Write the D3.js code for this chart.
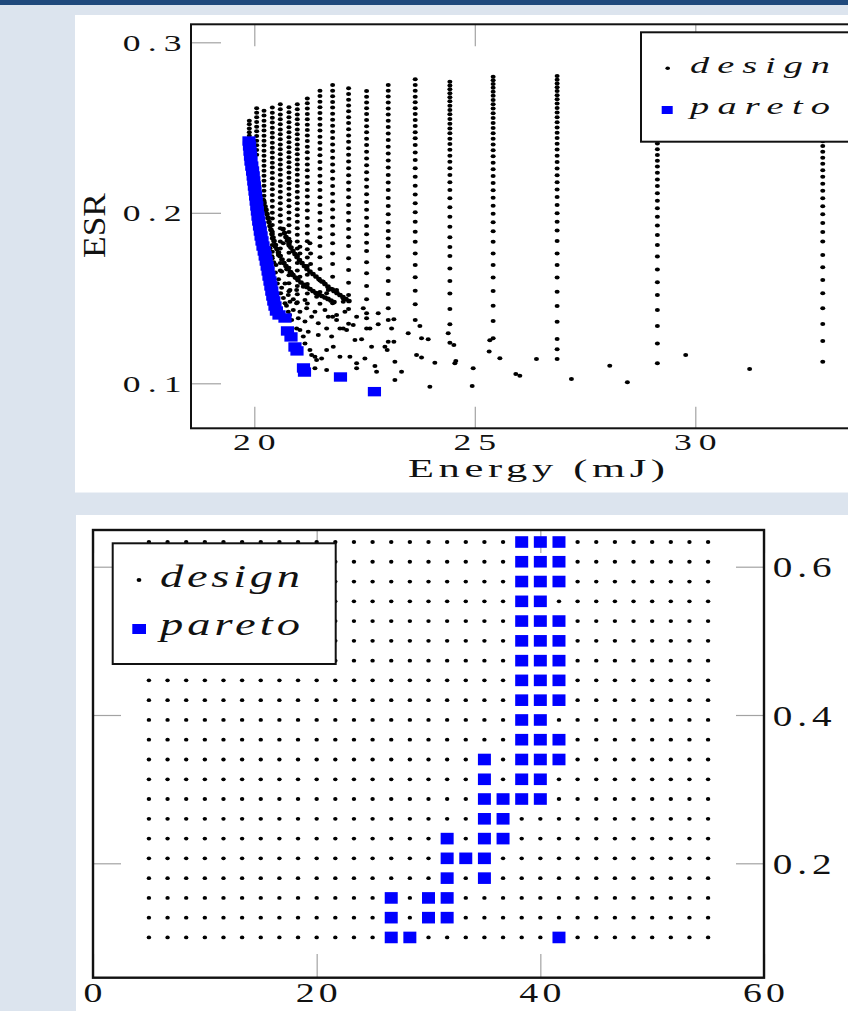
<!DOCTYPE html>
<html>
<head>
<meta charset="utf-8">
<script src="https://cdn.jsdelivr.net/npm/d3@7"></script>
<style>
  html, body { margin: 0; padding: 0; background: #dce4ee; overflow: hidden; }
  svg { display: block; }
  text { font-family: "Liberation Serif", "DejaVu Serif", serif; fill: #111; }
</style>
</head>
<body>
<svg id="page"></svg>
<script>
const width = 848;
const height = 1011;

// ---------- top chart: Energy (mJ) vs ESR ----------
const topXTicks = [20, 25, 30];
const topYTicks = [0.1, 0.2, 0.3];

// design sweep, one column of ESR values per energy level
const designColumns = [
  [19.887, [.2540,.2519,.2495,.2472,.2452,.2430,.2408]],
  [20.054, [.2613,.2587,.2560,.2533,.2505,.2478,.2451,.2423,.2396,.2368,.2340]],
  [20.220, [.2599,.2570,.2540,.2511,.2482,.2452,.2423,.2394,.2364,.2335,.2306,.2276,.2247,.2218,.2188,.2159,.2130,.2100,.2070,.2040,.2010]],
  [20.409, [.2617,.2587,.2558,.2529,.2499,.2470,.2441,.2411,.2382,.2353,.2323,.2294,.2265,.2235,.2202,.2169,.2138,.2104,.2071,.2036,.2001,.1966,.1928,.1889,.1850,.1811,.1772,.1733]],
  [20.590, [.2636,.2607,.2577,.2548,.2519,.2489,.2460,.2431,.2401,.2372,.2343,.2313,.2284,.2254,.2223,.2190,.2157,.2124,.2090,.2056,.2021,.1985,.1948,.1910,.1871,.1831,.1790,.1748,.1705,.1661]],
  [20.786, [.2619,.2590,.2561,.2531,.2502,.2472,.2443,.2414,.2384,.2355,.2326,.2296,.2267,.2237,.2206,.2174,.2141,.2107,.2073,.2038,.2002,.1965,.1927,.1888,.1848,.1807,.1765,.1722,.1678,.1633,.1587,.1540]],
  [20.975, [.2636,.2607,.2577,.2548,.2519,.2489,.2460,.2431,.2401,.2372,.2343,.2313,.2284,.2254,.2223,.2190,.2157,.2124,.2090,.2056,.2021,.1985,.1948,.1910,.1871,.1831,.1790,.1748,.1705,.1661,.1616,.1570,.1523,.1475]],
  [21.202, [.2671,.2642,.2611,.2579,.2548,.2517,.2486,.2454,.2421,.2388,.2355,.2319,.2284,.2249,.2212,.2173,.2134,.2095,.2054,.2013,.1969,.1924,.1879,.1833,.1786,.1738,.1688,.1636,.1582,.1526,.1468]],
  [21.489, [.2716,.2685,.2652,.2619,.2585,.2552,.2517,.2482,.2446,.2411,.2374,.2337,.2298,.2259,.2218,.2177,.2134,.2091,.2046,.2001,.1954,.1905,.1856,.1805,.1739,.1670,.1603,.1535,.1467]],
  [21.776, [.2750,.2716,.2683,.2650,.2617,.2581,.2546,.2511,.2476,.2439,.2401,.2362,.2323,.2284,.2243,.2200,.2157,.2112,.2067,.2020,.1973,.1924,.1874,.1821,.1762,.1700,.1625,.1551,.1469,.1391]],
  [22.138, [.2730,.2697,.2663,.2630,.2596,.2561,.2526,.2490,.2454,.2417,.2379,.2340,.2301,.2261,.2220,.2178,.2135,.2091,.2046,.2000,.1953,.1905,.1856,.1806,.1733,.1665,.1590,.1518,.1436,.1350]],
  [22.546, [.2714,.2681,.2647,.2613,.2579,.2544,.2508,.2472,.2435,.2397,.2358,.2319,.2279,.2238,.2196,.2153,.2109,.2064,.2018,.1971,.1923,.1874,.1824,.1776,.1710,.1645,.1571,.1493,.1411,.1322]],
  [23.037, [.2750,.2716,.2682,.2647,.2612,.2576,.2540,.2503,.2465,.2427,.2388,.2348,.2307,.2265,.2222,.2178,.2133,.2087,.2040,.1992,.1943,.1893,.1850,.1805,.1743,.1674,.1600,.1524,.1440,.1371,.1244]],
  [23.649, [.2783,.2750,.2716,.2681,.2648,.2613,.2579,.2544,.2509,.2472,.2437,.2398,.2353,.2310,.2261,.2212,.2159,.2108,.2056,.2003,.1948,.1889,.1830,.1762,.1694,.1622,.1543,.1463,.1371]],
  [24.435, [.2769,.2746,.2724,.2701,.2677,.2654,.2628,.2603,.2578,.2550,.2523,.2495,.2466,.2435,.2403,.2370,.2335,.2300,.2261,.2222,.2179,.2134,.2085,.2032,.1977,.1918,.1856,.1800,.1747,.1674,.1600,.1526,.1436,.1346,.1238]],
  [25.416, [.2798,.2777,.2755,.2733,.2710,.2686,.2662,.2637,.2611,.2584,.2556,.2527,.2497,.2466,.2434,.2401,.2367,.2331,.2294,.2256,.2216,.2175,.2132,.2088,.2042,.1994,.1944,.1892,.1830,.1762,.1694,.1620,.1542,.1455,.1365,.1264]],
  [26.867, [.2802,.2781,.2759,.2737,.2714,.2690,.2666,.2641,.2615,.2588,.2560,.2531,.2501,.2470,.2438,.2405,.2371,.2335,.2298,.2260,.2220,.2179,.2136,.2092,.2046,.1998,.1948,.1896,.1835,.1762,.1694,.1620,.1537,.1453,.1361,.1260,.1199,.1142]],
  [29.140, [.2790,.2768,.2745,.2721,.2696,.2670,.2643,.2615,.2586,.2556,.2525,.2493,.2460,.2434,.2407,.2372,.2339,.2306,.2271,.2235,.2196,.2157,.2114,.2071,.2026,.1977,.1925,.1870,.1811,.1743,.1668,.1592,.1518,.1430,.1336,.1234,.1117]],
  [32.890, [.2800,.2775,.2750,.2724,.2697,.2669,.2640,.2610,.2579,.2547,.2514,.2480,.2445,.2420,.2392,.2358,.2323,.2287,.2250,.2211,.2171,.2129,.2085,.2039,.1991,.1940,.1887,.1831,.1752,.1680,.1606,.1528,.1440,.1348,.1248,.1127]]
];

// loose design points below the columns
const designScatter = [
  [24.941,.0984],[24.963,.1088],[25.326,.1186],[25.568,.1147],[25.930,.1055],[26.021,.1045],
  [26.398,.1143],[27.191,.1025],[28.060,.1103],[28.460,.1006],[29.782,.1166],[31.232,.1084],
  [24.397,.1293],[24.525,.1225],[24.548,.1117],[24.570,.1131],[25.340,.1252],
  [20.469,.1801],[20.545,.1753],[20.658,.1821],[20.809,.1831],[21.035,.1801],[21.262,.1821],
  [20.492,.1694],[20.620,.1655],[20.733,.1669],[20.847,.1645],[21.035,.1762],[21.277,.1762],
  [21.277,.1700],[21.035,.1625],[20.696,.1586],[20.809,.1547],[20.960,.1547],[21.111,.1567],
  [20.771,.1518],[20.884,.1493],[20.809,.1479],[20.960,.1469],[21.149,.1489],[21.413,.1508],
  [21.640,.1528],[21.564,.1596],[21.678,.1547],[21.866,.1547],[22.017,.1498],[22.017,.1479],
  [20.884,.1430],[21.035,.1420],[21.187,.1440],[21.375,.1420],[21.602,.1430],[21.866,.1401],
  [22.055,.1420],[22.320,.1391],[22.471,.1440],[22.810,.1411],[20.998,.1381],[21.149,.1362],
  [21.300,.1391],[21.451,.1352],[21.678,.1391],[21.866,.1371],[22.017,.1322],[22.244,.1342],
  [22.546,.1381],[22.622,.1322],[22.810,.1346],[23.165,.1375],[23.113,.1322],[21.035,.1313],
  [21.224,.1303],[21.451,.1283],[21.640,.1322],[21.753,.1274],[21.942,.1322],[22.093,.1313],
  [22.282,.1254],[22.433,.1258],[22.659,.1215],[22.962,.1215],[23.014,.1195],[23.165,.1244],
  [23.490,.1293],[23.755,.1336],[23.792,.1264],[23.943,.1258],[21.149,.1234],[21.262,.1195],
  [21.375,.1156],[21.526,.1146],[21.640,.1195],[21.791,.1215],[21.942,.1156],[22.168,.1156],
  [22.320,.1117],[22.508,.1146],[22.735,.1102],[22.773,.1068],[23.188,.1127],[23.339,.1068],
  [23.679,.1166],[23.792,.1152],[24.094,.1121],[21.375,.1088],[21.640,.1078],[22.320,.1088],
  [23.188,.1019],[23.981,.0980],
  [20.356,.1792],[20.522,.1586],[20.597,.1528],[20.696,.1469],[20.771,.1420],[20.847,.1371],
  [20.960,.1322],[21.111,.1274],[21.300,.1166],[21.413,.1137],
  [20.400,.1745],[20.440,.1710],[20.480,.1650],[20.550,.1610],[20.620,.1560],[20.660,.1500],
  [20.730,.1455],[20.800,.1400]
];

// the two dense curved runs of design points
const designStreaks = [
  [20.200,.2075],[20.220,.2058],[20.243,.2037],[20.265,.2017],[20.288,.1993],[20.311,.1970],[20.333,.1946],
  [20.356,.1923],[20.378,.1900],[20.401,.1876],[20.424,.1855],[20.447,.1835],[20.480,.1811],
  [20.514,.1788],[20.548,.1767],[20.583,.1747],[20.628,.1726],[20.673,.1706],[20.718,.1688],
  [20.764,.1670],[20.820,.1652],[20.877,.1635],[20.933,.1620],[20.990,.1606],[21.058,.1591],
  [21.126,.1577],[21.194,.1565],[21.262,.1553],[21.330,.1541],[21.398,.1530],[21.466,.1521],
  [21.534,.1512],[21.602,.1503],[21.670,.1495],[21.738,.1486],[21.806,.1477],
  [20.651,.1905],[20.685,.1881],[20.718,.1858],[20.752,.1837],[20.786,.1817],[20.831,.1796],
  [20.877,.1776],[20.922,.1758],[20.968,.1741],[21.024,.1723],[21.081,.1706],[21.137,.1688],
  [21.194,.1670],[21.262,.1655],[21.330,.1641],[21.398,.1626],[21.466,.1612],[21.534,.1597],
  [21.602,.1582],[21.670,.1567],[21.738,.1553],[21.806,.1541],[21.874,.1530],[21.942,.1518],
  [22.010,.1506],[22.078,.1494],[22.146,.1483]
];

const paretoTop = [
  [19.880,.2421],[19.891,.2392],[19.903,.2362],[19.914,.2333],[19.925,.2304],[19.943,.2274],
  [19.961,.2245],[19.975,.2216],[19.989,.2187],[20.002,.2157],[20.016,.2128],[20.030,.2099],
  [20.043,.2069],[20.057,.2040],[20.070,.2011],[20.084,.1981],[20.100,.1952],[20.118,.1923],
  [20.136,.1893],[20.154,.1864],[20.175,.1835],[20.197,.1805],[20.225,.1776],[20.247,.1747],
  [20.270,.1717],[20.292,.1688],[20.313,.1659],[20.333,.1629],[20.356,.1600],[20.376,.1571],
  [20.397,.1541],[20.419,.1512],[20.442,.1483],[20.469,.1453],[20.501,.1424],
  [20.560,.1401],[20.696,.1383],[20.752,.1307],[20.832,.1272],[20.922,.1213],[20.968,.1190],
  [21.115,.1090],[21.138,.1066],[21.954,.1037],[22.724,.0951]
];

// ---------- bottom chart: grid sweep ----------
const botXTicks = [0, 20, 40, 60];
const botYTicks = [0.2, 0.4, 0.6];
const gridX = [5, 6.667, 8.333, 10, 11.667, 13.333, 15, 16.667, 18.333, 20, 21.667, 23.333,
  25, 26.667, 28.333, 30, 31.667, 33.333, 35, 36.667, 38.333, 40, 41.667, 43.333, 45,
  46.667, 48.333, 50, 51.667, 53.333, 55];
const gridY = [0.1, 0.1267, 0.1533, 0.18, 0.2067, 0.2333, 0.26, 0.2867, 0.3133, 0.34,
  0.3667, 0.3933, 0.42, 0.4467, 0.4733, 0.5, 0.5267, 0.5533, 0.58, 0.6067, 0.6333];
const paretoBottom = [
  [38.333,.6333],[40,.6333],[41.667,.6333],
  [38.333,.6067],[40,.6067],[41.667,.6067],
  [38.333,.58],[40,.58],[41.667,.58],
  [38.333,.5533],[40,.5533],
  [38.333,.5267],[40,.5267],[41.667,.5267],
  [38.333,.5],[40,.5],[41.667,.5],
  [38.333,.4733],[40,.4733],[41.667,.4733],
  [38.333,.4467],[40,.4467],[41.667,.4467],
  [38.333,.42],[40,.42],[41.667,.42],
  [38.333,.3933],[40,.3933],
  [38.333,.3667],[40,.3667],[41.667,.3667],
  [35,.34],[38.333,.34],[40,.34],[41.667,.34],
  [35,.3133],[38.333,.3133],[40,.3133],
  [35,.2867],[36.667,.2867],[38.333,.2867],[40,.2867],
  [35,.26],[36.667,.26],
  [31.667,.2333],[35,.2333],[36.667,.2333],
  [31.667,.2067],[33.333,.2067],[35,.2067],
  [31.667,.18],[35,.18],
  [26.667,.1533],[30,.1533],[31.667,.1533],
  [26.667,.1267],[30,.1267],[31.667,.1267],
  [26.667,.1],[28.333,.1],[41.667,.1]
];

const legendLabels = ['design', 'pareto'];

function main(){
  const svg = d3.select('#page').attr('width', width).attr('height', height);

  svg.append('rect').attr('width', width).attr('height', height).attr('fill', '#dce4ee');
  svg.append('rect').attr('width', width).attr('height', 5).attr('fill', '#1f497c');
  svg.append('rect').attr('x', 75).attr('y', 15).attr('width', 800).attr('height', 477.5).attr('fill', '#fff');
  svg.append('rect').attr('x', 76).attr('y', 515).attr('width', 800).attr('height', 500).attr('fill', '#fff');

  drawTop(svg);
  drawBottom(svg);
}

// text stretched sideways like the source picture, fitted to a measured width
function label(parent, str, x, y, o){
  const sx = o.sx || 1;
  const t = parent.append('text')
    .attr('transform', `translate(${x},${y}) scale(${sx},1)` + (o.rotate ? ` rotate(${o.rotate})` : ''))
    .attr('text-anchor', o.anchor || 'middle')
    .attr('font-size', o.size)
    .attr('font-style', o.italic ? 'italic' : null)
    .text(str);
  if(o.width){
    t.attr('textLength', o.width / sx).attr('lengthAdjust', o.adjust || 'spacing');
  }
  return t;
}

function tickStyle(g){
  g.selectAll('.domain').remove();
  g.selectAll('.tick line').attr('stroke', '#a3a3a3').attr('stroke-width', 1.2);
  g.selectAll('.tick text').remove();
}

function drawTop(svg){
  const box = {x0: 191, x1: 872, y0: 24.3, y1: 428.3};
  const x = d3.scaleLinear().domain([20, 30]).range([254.3, 695.3]);
  const y = d3.scaleLinear().domain([0.1, 0.3]).range([383.3, 42.3]);
  const g = svg.append('g');

  g.append('g').attr('transform', `translate(0,${box.y1})`)
    .call(d3.axisBottom(x).tickValues(topXTicks).tickSize(-21.5)).call(tickStyle);
  g.append('g').attr('transform', `translate(0,${box.y0})`)
    .call(d3.axisTop(x).tickValues(topXTicks).tickSize(-22)).call(tickStyle);
  g.append('g').attr('transform', `translate(${box.x0},0)`)
    .call(d3.axisLeft(y).tickValues(topYTicks).tickSize(-30)).call(tickStyle);

  let pts = [];
  designColumns.forEach(([e, vals]) => vals.forEach(v => pts.push([e, v])));
  pts = pts.concat(designScatter);

  g.selectAll('.design').data(pts).join('ellipse')
    .attr('class', 'design')
    .attr('cx', d => x(d[0])).attr('cy', d => y(d[1]))
    .attr('rx', 2.5).attr('ry', 2.0).attr('fill', '#000');

  g.selectAll('.streak').data(designStreaks).join('ellipse')
    .attr('class', 'streak')
    .attr('cx', d => x(d[0])).attr('cy', d => y(d[1]))
    .attr('rx', 2.8).attr('ry', 2.3).attr('fill', '#000');

  g.selectAll('.pareto').data(paretoTop).join('rect')
    .attr('class', 'pareto')
    .attr('x', d => x(d[0]) - 6.6).attr('y', d => y(d[1]) - 4.7)
    .attr('width', 13.2).attr('height', 9.4).attr('fill', '#0000ff');

  g.append('rect')
    .attr('x', box.x0).attr('y', box.y0)
    .attr('width', box.x1 - box.x0).attr('height', box.y1 - box.y0)
    .attr('fill', 'none').attr('stroke', '#111').attr('stroke-width', 2);

  // tick labels
  topYTicks.forEach(v => label(g, d3.format('.1f')(v), 181.7, y(v) + 8.6,
    {size: 23, anchor: 'end', sx: 1.55, width: 59}));
  topXTicks.forEach(v => label(g, String(v), x(v), 450,
    {size: 23, sx: 1.55, width: 42.5}));
  label(g, 'Energy (mJ)', 536.5, 477, {size: 25, sx: 1.7, width: 257});
  label(g, 'ESR', 105, 225.5, {size: 31, rotate: -90, width: 65, adjust: 'spacingAndGlyphs'});

  // legend
  const lg = g.append('g');
  lg.append('rect').attr('x', 641).attr('y', 32.3).attr('width', 300).attr('height', 109.4)
    .attr('fill', '#fff').attr('stroke', '#111').attr('stroke-width', 2);
  lg.append('ellipse').attr('cx', 667.7).attr('cy', 68.3).attr('rx', 2.3).attr('ry', 1.8).attr('fill', '#000');
  lg.append('rect').attr('x', 661.7).attr('y', 106).attr('width', 11).attr('height', 8).attr('fill', '#0000ff');
  label(lg, legendLabels[0], 690, 73.3, {size: 24, italic: true, anchor: 'start', sx: 1.6, width: 140});
  label(lg, legendLabels[1], 690, 113.5, {size: 24, italic: true, anchor: 'start', sx: 1.6, width: 140});
}

function drawBottom(svg){
  const box = {x0: 93, x1: 764, y0: 530, y1: 977.7};
  const x = d3.scaleLinear().domain([0, 60]).range([box.x0, box.x1]);
  const y = d3.scaleLinear().domain([0.2, 0.6]).range([863.3, 566.7]);
  const g = svg.append('g');

  g.append('g').attr('transform', `translate(0,${box.y1})`)
    .call(d3.axisBottom(x).tickValues(botXTicks).tickSize(-23.7)).call(tickStyle);
  g.append('g').attr('transform', `translate(0,${box.y0})`)
    .call(d3.axisTop(x).tickValues(botXTicks).tickSize(-23)).call(tickStyle);
  g.append('g').attr('transform', `translate(${box.x0},0)`)
    .call(d3.axisLeft(y).tickValues(botYTicks).tickSize(-28)).call(tickStyle);
  g.append('g').attr('transform', `translate(${box.x1},0)`)
    .call(d3.axisRight(y).tickValues(botYTicks).tickSize(-28)).call(tickStyle);

  const pts = d3.cross(gridX, gridY);
  g.selectAll('.design').data(pts).join('ellipse')
    .attr('class', 'design')
    .attr('cx', d => x(d[0])).attr('cy', d => y(d[1]))
    .attr('rx', 2.2).attr('ry', 1.9).attr('fill', '#000');

  g.selectAll('.pareto').data(paretoBottom).join('rect')
    .attr('class', 'pareto')
    .attr('x', d => x(d[0]) - 6.5).attr('y', d => y(d[1]) - 5.8)
    .attr('width', 13).attr('height', 11.6).attr('fill', '#0000ff');

  g.append('rect')
    .attr('x', box.x0).attr('y', box.y0)
    .attr('width', box.x1 - box.x0).attr('height', box.y1 - box.y0)
    .attr('fill', 'none').attr('stroke', '#111').attr('stroke-width', 2.4);

  botXTicks.forEach(v => label(g, String(v), x(v), 1001.5,
    {size: 28, sx: 1.35, width: v === 0 ? 20 : 42}));
  botYTicks.forEach(v => label(g, d3.format('.1f')(v), 772.7, y(v) + 10.5,
    {size: 29, anchor: 'start', sx: 1.35, width: 59}));

  const lg = g.append('g');
  lg.append('rect').attr('x', 112.7).attr('y', 543.3).attr('width', 223).attr('height', 120.7)
    .attr('fill', '#fff').attr('stroke', '#111').attr('stroke-width', 2);
  lg.append('ellipse').attr('cx', 139).attr('cy', 580).attr('rx', 2.4).attr('ry', 1.9).attr('fill', '#000');
  lg.append('rect').attr('x', 132.3).attr('y', 624).attr('width', 13.7).attr('height', 10).attr('fill', '#0000ff');
  label(lg, legendLabels[0], 160, 587.3, {size: 31, italic: true, anchor: 'start', sx: 1.5, width: 140});
  label(lg, legendLabels[1], 160, 635, {size: 31, italic: true, anchor: 'start', sx: 1.5, width: 140});
}

document.addEventListener('DOMContentLoaded', main);
</script>
</body>
</html>
